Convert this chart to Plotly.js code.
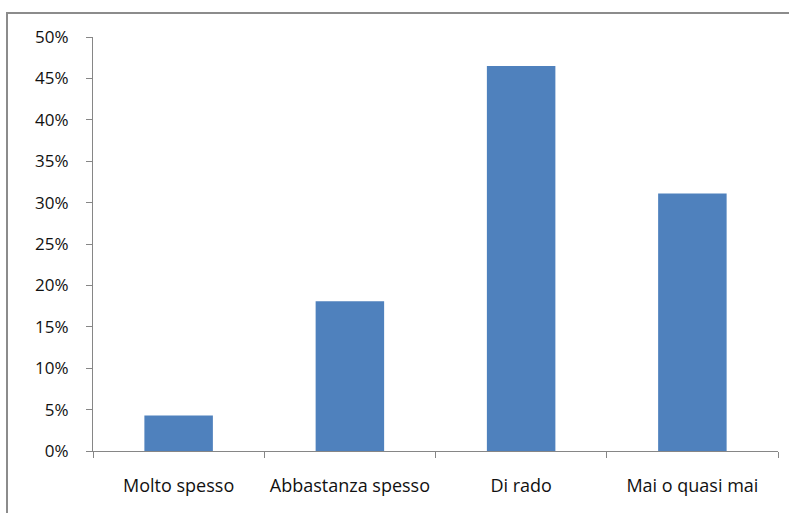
<!DOCTYPE html>
<html><head><meta charset="utf-8">
<script src="https://cdn.plot.ly/plotly-3.0.1.min.js"></script>
<style>
html,body{margin:0;padding:0;background:#fff;}
#wrap{position:relative;width:789px;height:513px;overflow:hidden;}
#frame{position:absolute;left:6px;top:12px;width:800px;height:520px;border-top:2px solid #8c8c8c;border-left:2px solid #8c8c8c;pointer-events:none;}
#chart{position:absolute;left:0;top:0;width:789px;height:513px;}
</style></head>
<body><div id="wrap"><div id="chart"></div><div id="frame"></div></div>
<script>
const categories = ["Molto spesso", "Abbastanza spesso", "Di rado", "Mai o quasi mai"];
const values = [0.043, 0.181, 0.465, 0.311];
const tickVals = [0, 0.05, 0.10, 0.15, 0.20, 0.25, 0.30, 0.35, 0.40, 0.45, 0.50];
const tickText = ["0%", "5%", "10%", "15%", "20%", "25%", "30%", "35%", "40%", "45%", "50%"];

Plotly.newPlot("chart", [{
  type: "bar", x: categories, y: values,
  marker: {color: "#4F81BD"}, hoverinfo: "none"
}], {
  width: 789, height: 513,
  margin: {l: 93, r: 11, t: 37, b: 62},
  paper_bgcolor: "#fff", plot_bgcolor: "#fff",
  bargap: 0.6,
  showlegend: false,
  font: {family: "Open Sans, sans-serif", size: 18, color: "#111"},
  xaxis: {
    type: "category", tickson: "boundaries", ticks: "outside", ticklen: 6, tickcolor: "#868686",
    showline: true, linecolor: "#868686", linewidth: 1, showgrid: false, zeroline: false,
    ticklabelstandoff: 18, tickfont: {size: 18}
  },
  yaxis: {
    range: [0, 0.5], tickvals: tickVals, ticktext: tickText, ticks: "outside", ticklen: 6, tickcolor: "#868686",
    showline: true, linecolor: "#868686", linewidth: 1, showgrid: false, zeroline: false,
    ticklabelstandoff: 14, tickfont: {size: 17}
  }
}, {staticPlot: true});
</script></body></html>
